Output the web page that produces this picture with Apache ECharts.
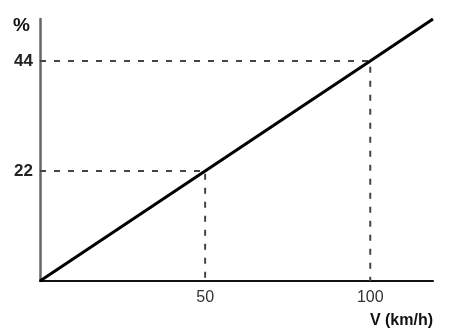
<!DOCTYPE html>
<html>
<head>
<meta charset="utf-8">
<script src="https://cdn.jsdelivr.net/npm/echarts@6/dist/echarts.min.js"></script>
<style>
  html, body { margin: 0; padding: 0; background: #fff; }
  #chart { width: 451px; height: 333px; }
</style>
</head>
<body>
<div id="chart"></div>
<script>
// values
var xTicks = [50, 100];
var yTicks = [22, 44];
var lineData = [[0, 0], [50, 22], [100, 44], [119, 52.4]];
var guide22 = [[0, 22], [50, 22], [50, 0]];
var guide44 = [[0, 44], [100, 44], [100, 0]];

var myChart = echarts.init(document.getElementById('chart'));
var guideStyle = { color: '#444', width: 2, type: [6, 8] };

var option = {
    animation: false,
    grid: { left: 40, right: 18, top: 19, bottom: 52 },
    xAxis: {
        type: 'value',
        min: 0,
        max: 119,
        name: 'V (km/h)',
        nameLocation: 'end',
        nameGap: 0,
        nameTextStyle: {
            align: 'right', verticalAlign: 'top', padding: [32, 0, 0, 0],
            color: '#111', fontSize: 16, fontWeight: 'bold', fontFamily: 'Liberation Sans'
        },
        axisLine: { lineStyle: { color: '#111', width: 2 } },
        axisTick: { show: false },
        splitLine: { show: false },
        axisLabel: {
            customValues: xTicks,
            margin: 9,
            color: '#333', fontSize: 16, fontFamily: 'Liberation Sans'
        }
    },
    yAxis: {
        type: 'value',
        min: 0,
        max: 52.4,
        name: '%',
        nameLocation: 'end',
        nameGap: 0,
        nameTextStyle: {
            align: 'right', verticalAlign: 'top', padding: [-3, 10, 0, 0],
            color: '#111', fontSize: 19, fontWeight: 'bold', fontFamily: 'Liberation Sans'
        },
        axisLine: { lineStyle: { color: '#666', width: 2.5 } },
        axisTick: { show: false },
        splitLine: { show: false },
        axisLabel: {
            customValues: yTicks,
            margin: 7,
            color: '#222', fontSize: 17, fontWeight: 'bold', fontFamily: 'Liberation Sans'
        }
    },
    series: [
        { type: 'line', data: guide22, symbol: 'none', lineStyle: guideStyle, z: 1 },
        { type: 'line', data: guide44, symbol: 'none', lineStyle: guideStyle, z: 1 },
        { type: 'line', data: lineData, symbol: 'none', lineStyle: { color: '#000', width: 3 }, z: 3 }
    ]
};
myChart.setOption(option, true);
</script>
</body>
</html>
